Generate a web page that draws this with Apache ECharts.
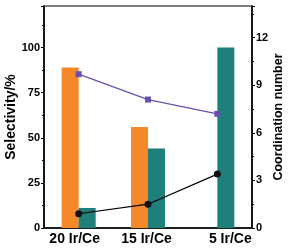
<!DOCTYPE html>
<html>
<head>
<meta charset="utf-8">
<script src="https://cdn.jsdelivr.net/npm/echarts@6/dist/echarts.min.js"></script>
<style>html,body{margin:0;padding:0;background:#fff}#c{width:295px;height:251px}</style>
</head>
<body>
<div id="c"></div>
<script>
const categories = ['20 Ir/Ce', '15 Ir/Ce', '5 Ir/Ce'];
const selectivityOrange = [88.9, 55.9, 0];
const selectivityTeal = [11.1, 44.1, 100];
const cnPurple = [9.7, 8.1, 7.2];
const cnBlack = [0.9, 1.5, 3.4];
const leftTicks = [0, 25, 50, 75, 100];
const rightTicks = [0, 3, 6, 9, 12];

const font = '"Liberation Sans", Arial, sans-serif';
const labelPad = [[0, 8, 0, 0], [0, 3, 0, 0], [0, 0, 0, 26]];
const chart = echarts.init(document.getElementById('c'), null, {renderer: 'canvas'});
chart.setOption({
  animation: false,
  grid: {left: 44, right: 43, top: 6, bottom: 23, show: true, borderColor: '#000', borderWidth: 1.2,
    containLabel: false, outerBoundsMode: 'none'},
  xAxis: {
    type: 'category', data: categories,
    axisLine: {lineStyle: {color: '#000', width: 1.5}},
    axisTick: {show: false},
    axisLabel: {
      interval: 0, hideOverlap: false,
      margin: 4, color: '#000', fontFamily: font, fontWeight: 'bold', fontSize: 14,
      formatter: (v, i) => '{l' + i + '|' + v + '}',
      rich: {
        l0: {padding: labelPad[0], fontFamily: font, fontWeight: 'bold', fontSize: 14, color: '#000'},
        l1: {padding: labelPad[1], fontFamily: font, fontWeight: 'bold', fontSize: 14, color: '#000'},
        l2: {padding: labelPad[2], fontFamily: font, fontWeight: 'bold', fontSize: 14, color: '#000'}
      }
    }
  },
  yAxis: [{
    type: 'value', min: 0, max: 123, interval: 25,
    name: 'Selectivity/%', nameLocation: 'middle', nameGap: 26, nameMoveOverlap: false,
    nameTextStyle: {fontFamily: font, fontWeight: 'bold', fontSize: 14, color: '#000'},
    axisLine: {show: true, lineStyle: {color: '#000', width: 1.5}},
    axisTick: {show: true, length: 3, lineStyle: {color: '#000'}},
    minorTick: {show: true, splitNumber: 2, length: 2, lineStyle: {color: '#000'}},
    splitLine: {show: false},
    axisLabel: {showMaxLabel: false, margin: 4, color: '#000', fontFamily: font, fontWeight: 'bold', fontSize: 11,
      formatter: v => leftTicks.includes(v) ? String(v) : ''}
  }, {
    type: 'value', min: 0, max: 14, interval: 3, position: 'right',
    name: 'Coordination number', nameLocation: 'middle', nameGap: 20, nameRotate: 90, nameMoveOverlap: false,
    nameTextStyle: {fontFamily: font, fontWeight: 'bold', fontSize: 12.5, color: '#000'},
    axisLine: {show: true, lineStyle: {color: '#000', width: 1.5}},
    axisTick: {show: true, length: 3, lineStyle: {color: '#000'}},
    minorTick: {show: true, splitNumber: 2, length: 2, lineStyle: {color: '#000'}},
    splitLine: {show: false},
    axisLabel: {showMaxLabel: false, margin: 4, color: '#000', fontFamily: font, fontWeight: 'bold', fontSize: 11,
      formatter: v => rightTicks.includes(v) ? String(v) : ''}
  }],
  series: [{
    type: 'bar', data: selectivityOrange, yAxisIndex: 0, barWidth: 17, barGap: '0%',
    itemStyle: {color: '#F5892A'}
  }, {
    type: 'bar', data: selectivityTeal, yAxisIndex: 0, barWidth: 17, barGap: '0%',
    itemStyle: {color: '#1E7F7B'}
  }, {
    type: 'line', data: cnPurple, yAxisIndex: 1, symbol: 'rect', symbolSize: 6,
    lineStyle: {color: '#6A4FAE', width: 1.3}, itemStyle: {color: '#6A4FAE'}, z: 5
  }, {
    type: 'line', data: cnBlack, yAxisIndex: 1, symbol: 'circle', symbolSize: 7,
    lineStyle: {color: '#000', width: 1.2}, itemStyle: {color: '#111'}, z: 5
  }]
});
</script>
</body>
</html>
